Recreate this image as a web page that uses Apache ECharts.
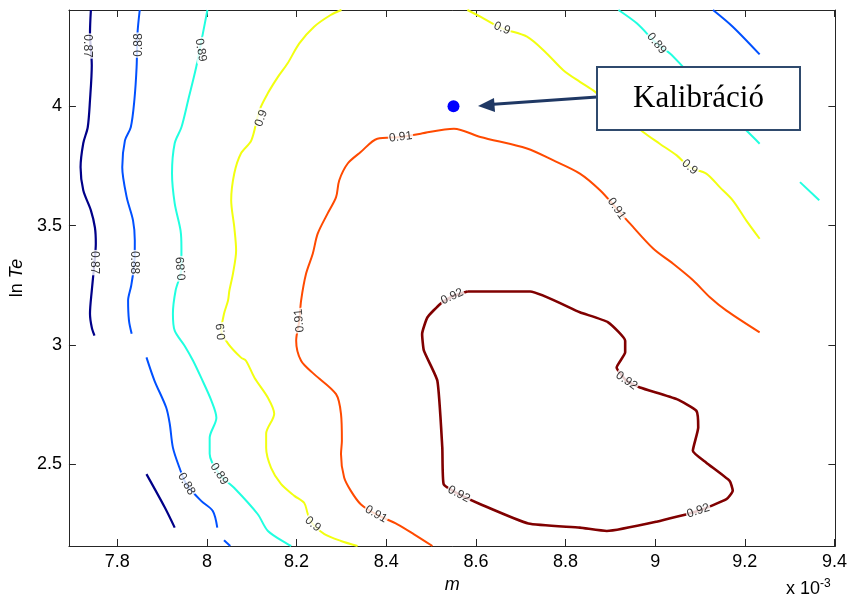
<!DOCTYPE html>
<html>
<head>
<meta charset="utf-8">
<script src="https://cdn.jsdelivr.net/npm/echarts@6/dist/echarts.min.js"></script>
<style>html,body{margin:0;padding:0;background:#fff}#c{width:850px;height:599px}</style>
</head>
<body>
<div id="c"></div>
<script>
// ---- data (m in units of 1e-3, ln Te) ----
const xTicks = [7.8, 8, 8.2, 8.4, 8.6, 8.8, 9, 9.2, 9.4];
const yTicks = [2.5, 3, 3.5, 4];
const levels = [0.87, 0.88, 0.89, 0.9, 0.91, 0.92];

const c087_upper = [[7.741,4.403],[7.739,4.306],[7.743,4.172],[7.739,4.025],[7.734,3.912],[7.724,3.845],[7.718,3.744],[7.724,3.648],[7.741,3.564],[7.750,3.492],[7.752,3.425],[7.749,3.345],[7.743,3.228],[7.739,3.131],[7.743,3.073],[7.749,3.039]];
const c087_lower = [[7.865,2.459],[7.906,2.319],[7.928,2.235]];

const c088_left = [[7.850,4.403],[7.845,4.306],[7.843,4.164],[7.838,4.025],[7.830,3.912],[7.817,3.857],[7.811,3.744],[7.821,3.618],[7.835,3.522],[7.839,3.438],[7.838,3.345],[7.831,3.249],[7.824,3.186],[7.826,3.102],[7.832,3.047]];
const c088_lower = [[7.865,2.948],[7.883,2.850],[7.909,2.738],[7.917,2.669],[7.924,2.570],[7.938,2.489],[7.954,2.417],[7.987,2.347],[8.013,2.305],[8.023,2.235]];
const c088_bottom = [[8.038,2.182],[8.052,2.158]];
const c088_topright = [[9.129,4.403],[9.173,4.333],[9.233,4.217]];

const c089_left = [[8.001,4.403],[7.991,4.306],[7.976,4.164],[7.958,4.025],[7.943,3.912],[7.928,3.845],[7.922,3.719],[7.928,3.593],[7.941,3.480],[7.943,3.408],[7.943,3.320],[7.930,3.228],[7.924,3.131],[7.928,3.060],[7.950,2.997],[7.969,2.934],[7.987,2.863],[8.010,2.766],[8.021,2.695],[8.006,2.611],[8.006,2.544],[8.027,2.460],[8.061,2.401],[8.113,2.292],[8.136,2.221],[8.180,2.166],[8.188,2.158]];
const c089_topright = [[8.918,4.403],[8.959,4.347],[9.003,4.263],[9.033,4.221],[9.062,4.165],[9.133,4.025],[9.203,3.899],[9.233,3.843]];
const c089_right = [[9.323,3.682],[9.366,3.606]];

const c090_left = [[8.300,4.403],[8.276,4.382],[8.239,4.333],[8.206,4.263],[8.180,4.180],[8.158,4.122],[8.136,4.055],[8.117,3.983],[8.099,3.857],[8.076,3.803],[8.061,3.719],[8.054,3.606],[8.061,3.492],[8.065,3.396],[8.058,3.299],[8.050,3.228],[8.047,3.186],[8.038,3.131],[8.032,3.060],[8.047,3.006],[8.076,2.947],[8.087,2.934],[8.106,2.863],[8.136,2.779],[8.150,2.712],[8.132,2.628],[8.132,2.569],[8.143,2.485],[8.165,2.418],[8.195,2.368],[8.217,2.338],[8.225,2.292],[8.236,2.250],[8.262,2.208],[8.299,2.179],[8.336,2.158]];
const c090_right = [[8.581,4.403],[8.610,4.375],[8.658,4.326],[8.714,4.291],[8.758,4.221],[8.795,4.151],[8.832,4.102],[8.866,4.060],[8.921,3.975],[8.973,3.892],[9.010,3.843],[9.048,3.794],[9.077,3.745],[9.114,3.718],[9.144,3.661],[9.173,3.606],[9.203,3.522],[9.233,3.445]];

const c091 = [[8.503,2.158],[8.462,2.207],[8.425,2.249],[8.377,2.291],[8.343,2.333],[8.321,2.389],[8.306,2.445],[8.299,2.543],[8.301,2.599],[8.299,2.711],[8.288,2.794],[8.239,2.878],[8.210,2.934],[8.199,3.018],[8.206,3.102],[8.210,3.186],[8.221,3.298],[8.236,3.382],[8.247,3.466],[8.269,3.550],[8.288,3.619],[8.295,3.689],[8.314,3.760],[8.343,3.808],[8.380,3.864],[8.432,3.871],[8.477,3.885],[8.551,3.906],[8.610,3.871],[8.714,3.823],[8.773,3.773],[8.832,3.718],[8.877,3.648],[8.914,3.571],[8.944,3.508],[8.996,3.403],[9.040,3.340],[9.085,3.270],[9.122,3.200],[9.159,3.144],[9.233,3.053]];

const c092 = [[8.581,3.224],[8.721,3.224],[8.832,3.137],[8.895,3.095],[8.933,3.018],[8.933,2.969],[8.914,2.906],[8.936,2.850],[8.966,2.822],[9.048,2.773],[9.092,2.724],[9.096,2.654],[9.084,2.557],[9.114,2.507],[9.166,2.431],[9.173,2.389],[9.159,2.354],[9.096,2.305],[9.003,2.260],[8.892,2.221],[8.832,2.235],[8.717,2.252],[8.610,2.333],[8.562,2.375],[8.528,2.417],[8.525,2.570],[8.514,2.850],[8.484,2.976],[8.480,3.046],[8.492,3.116],[8.521,3.173],[8.547,3.203],[8.581,3.224]];

// contour labels: [m, lnTe, level]
const contourLabels = [
  [7.732,4.252,0.87],[7.749,3.345,0.87],
  [7.847,4.256,0.88],[7.838,3.345,0.88],[7.954,2.418,0.88],
  [7.986,4.235,0.89],[7.943,3.320,0.89],[8.027,2.460,0.89],[9.003,4.263,0.89],
  [8.121,3.950,0.9],[8.032,3.056,0.9],[8.236,2.250,0.9],[8.658,4.326,0.9],[9.077,3.745,0.9],
  [8.206,3.102,0.91],[8.377,2.291,0.91],[8.432,3.871,0.91],[8.914,3.571,0.91],
  [8.547,3.203,0.92],[8.936,2.850,0.92],[9.096,2.305,0.92],[8.562,2.375,0.92]
];
const labelAngles = [-90,-90, 90,-90,-60, -80,95,-57,-50, 70,97,-40,-23,-40, 95,-30,7,-55, 25,-35,18,-28];

const calibration = [[8.55, 4.0]];

// ---- styling ----
const levelColors = {0.87:'#000088',0.88:'#0050FF',0.89:'#20FFE0',0.9:'#F2FF10',0.91:'#FF4A00',0.92:'#800000'};
const levelWidths = {0.87:2.2,0.88:2,0.89:2,0.9:2,0.91:2,0.92:2.6};
const pieces = [
  [0.87,c087_upper],[0.87,c087_lower],
  [0.88,c088_left],[0.88,c088_lower],[0.88,c088_bottom],[0.88,c088_topright],
  [0.89,c089_left],[0.89,c089_topright],[0.89,c089_right],
  [0.9,c090_left],[0.9,c090_right],
  [0.91,c091],[0.92,c092]
];

const series = pieces.map(([lv, d]) => ({
  type:'line', data:d, showSymbol:false, symbol:'none', silent:true, z:2,
  smooth: lv === 0.92 ? 0.15 : 0.3,
  lineStyle:{color:levelColors[lv], width:levelWidths[lv]}, xAxisIndex:0, yAxisIndex:0
}));
series.push({
  type:'scatter', symbolSize:0, silent:true, z:5,
  data: contourLabels.map((l,i)=>({
    value:[l[0],l[1]],
    label:{show:true, position:'inside', formatter:String(l[2]), rotate:labelAngles[i],
      color:'#000', fontSize:12, fontFamily:'Arial, Liberation Sans', backgroundColor:'#fff', padding:[0,1]}
  }))
});
series.push({type:'scatter', data:calibration, symbolSize:12, itemStyle:{color:'#0000FF', opacity:1}, z:6, silent:true});

const axisColor = '#262626';
const tickCommon = {show:true, inside:true, length:7, lineStyle:{color:axisColor}};
const fmt = v => String(+(+v).toFixed(2));

const chart = echarts.init(document.getElementById('c'), null, {renderer:'canvas'});
chart.setOption({
  animation:false,
  backgroundColor:'#fff',
  grid:{left:68, right:14, top:10, bottom:53, show:false},
  xAxis:[
    {type:'value', min:7.692, max:9.402, position:'bottom',
     axisLine:{show:true, onZero:false, lineStyle:{color:axisColor, width:1}},
     axisTick:Object.assign({customValues:xTicks}, tickCommon),
     axisLabel:{customValues:xTicks, formatter:fmt, color:'#000', fontSize:18, fontFamily:'Arial, Liberation Sans', margin:7},
     splitLine:{show:false},
     name:'m', nameLocation:'middle', nameGap:28,
     nameTextStyle:{fontStyle:'italic', fontSize:18, color:'#000', fontFamily:'Arial, Liberation Sans'}},
    {type:'value', min:7.692, max:9.402, position:'top',
     axisLine:{show:true, onZero:false, lineStyle:{color:axisColor, width:1}},
     axisTick:Object.assign({customValues:xTicks}, tickCommon),
     axisLabel:{show:false}, splitLine:{show:false}}
  ],
  yAxis:[
    {type:'value', min:2.158, max:4.403, position:'left',
     axisLine:{show:true, onZero:false, lineStyle:{color:axisColor, width:1}},
     axisTick:Object.assign({customValues:yTicks}, tickCommon),
     axisLabel:{customValues:yTicks, formatter:fmt, color:'#000', fontSize:18, fontFamily:'Arial, Liberation Sans', margin:7},
     splitLine:{show:false},
     name:'ln {i|Te}', nameLocation:'middle', nameGap:38, nameRotate:90,
     nameTextStyle:{fontSize:18, color:'#000', fontFamily:'Arial, Liberation Sans',
       rich:{i:{fontStyle:'italic', fontSize:18, fontFamily:'Arial, Liberation Sans', color:'#000'}}}},
    {type:'value', min:2.158, max:4.403, position:'right',
     axisLine:{show:true, onZero:false, lineStyle:{color:axisColor, width:1}},
     axisTick:Object.assign({customValues:yTicks}, tickCommon),
     axisLabel:{show:false}, splitLine:{show:false}}
  ],
  series:series,
  graphic:[
    {type:'text', left:786, top:578, z:100,
     style:{text:'x 10{s|-3}', fill:'#000', font:'18px Arial',
       rich:{s:{fontSize:12, fontFamily:'Arial', verticalAlign:'top', padding:[0,0,10,0]}}}},
    {type:'polyline', z:100, shape:{points:[[597,97],[490,104.5]]},
     style:{stroke:'#1F3864', lineWidth:3, fill:null}},
    {type:'polygon', z:100, shape:{points:[[478,106],[494,98],[495,112]]},
     style:{fill:'#1F3864'}},
    {type:'rect', z:100, shape:{x:597, y:67, width:203, height:63},
     style:{fill:'#fff', stroke:'#2F4A6D', lineWidth:2}},
    {type:'text', z:101, x:698.5, y:98.5,
     style:{text:'Kalibráció', fill:'#000', font:'31px "Liberation Serif", "Times New Roman", serif', align:'center', verticalAlign:'middle'}}
  ]
});
</script>
</body>
</html>
